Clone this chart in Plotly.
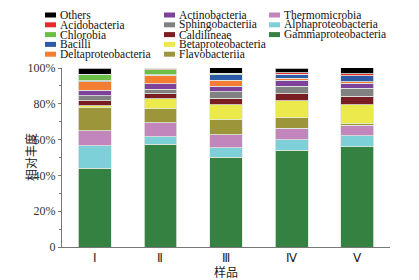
import plotly.graph_objects as go

samples = ["Ⅰ", "Ⅱ", "Ⅲ", "Ⅳ", "Ⅴ"]

# bottom -> top stacking order
taxa = ["Gammaproteobacteria", "Alphaproteobacteria", "Thermomicrobia",
        "Flavobacteriia", "Betaproteobacteria", "Caldilineae",
        "Sphingobacteriia", "Actinobacteria", "Deltaproteobacteria",
        "Bacilli", "Chlorobia", "Acidobacteria", "Others"]

gamma = [44.1, 57.4, 50.1, 54.0, 55.9]
alpha = [12.5, 4.3, 5.4, 6.0, 6.3]
thermo = [8.4, 7.8, 7.1, 6.3, 5.8]
flavo = [12.8, 7.6, 8.4, 5.8, 0.9]
beta = [1.1, 5.8, 8.6, 9.7, 10.6]
caldi = [2.8, 2.6, 3.5, 3.7, 4.8]
sphingo = [2.8, 2.6, 3.5, 4.3, 4.5]
actino = [3.2, 3.2, 3.2, 3.3, 2.8]
delta = [4.5, 4.7, 3.4, 1.1, 0.6]
bacilli = [0.7, 0.2, 3.0, 2.4, 3.4]
chlorobia = [3.2, 2.8, 0.7, 0.0, 0.0]
acido = [0.5, 0.8, 0.3, 0.8, 1.3]
others = [3.4, 0.2, 3.0, 2.6, 3.2]

series = [gamma, alpha, thermo, flavo, beta, caldi, sphingo, actino,
          delta, bacilli, chlorobia, acido, others]

colors = ["#358142", "#7dd0d8", "#c286bd", "#9d953a", "#ece94c", "#7a1d22",
          "#818181", "#7e429a", "#f47d31", "#2c5ca8", "#6bbf47", "#e8282c",
          "#000000"]

yticks = [0, 20, 40, 60, 80, 100]
yticklabels = ["0", "20%", "40%", "60%", "80%", "100%"]

# legend columns (top to bottom)
legend_cols = [
    ["Others", "Acidobacteria", "Chlorobia", "Bacilli", "Deltaproteobacteria"],
    ["Actinobacteria", "Sphingobacteriia", "Caldilineae", "Betaproteobacteria", "Flavobacteriia"],
    ["Thermomicrobia", "Alphaproteobacteria", "Gammaproteobacteria"],
]

SERIF = "Liberation Serif"
CJK = "Noto Sans CJK SC"

fig = go.Figure()
for name, vals, col in zip(taxa, series, colors):
    fig.add_trace(go.Bar(
        x=samples, y=vals, name=name, width=0.5,
        marker=dict(color=col, line=dict(color="rgba(225,232,225,1)", width=0.8)),
        showlegend=False,
    ))

W, H = 419, 280
ml, mr, mt, mb = 62, 29, 68, 33

fig.update_layout(
    width=W, height=H, barmode="stack",
    margin=dict(l=ml, r=mr, t=mt, b=mb, pad=0),
    paper_bgcolor="white", plot_bgcolor="white",
    font=dict(family=SERIF),
)
fig.update_xaxes(
    range=[-0.5, 4.5], showline=True, linecolor="#777", linewidth=1,
    ticks="", tickfont=dict(family=SERIF, size=12, color="#222"),
    showgrid=False, zeroline=False, automargin=False,
    title=dict(text="样品", font=dict(family=CJK, size=12, color="#222"), standoff=0),
)
fig.update_yaxes(
    range=[0, 100], tickvals=yticks, ticktext=yticklabels,
    showline=True, linecolor="#777", linewidth=1,
    ticks="outside", ticklen=3, tickcolor="#777",
    minor=dict(dtick=10, ticks="outside", ticklen=2, tickcolor="#777"),
    tickfont=dict(family=SERIF, size=12, color="#333"),
    showgrid=False, zeroline=False, automargin=False,
    ticklabelstandoff=0,
)

pw, ph = W - ml - mr, H - mt - mb
def px2paper(x, y):
    return (x - ml) / pw, (H - mb - y) / ph

# y-axis title placed like the reference
ytx, yty = px2paper(30, 157)
fig.add_annotation(xref="paper", yref="paper", x=ytx, y=yty, text="相对丰度",
                   textangle=-90, showarrow=False, xanchor="center", yanchor="middle",
                   font=dict(family=CJK, size=12, color="#222"))

# custom compact legend (paper coordinates)
color_of = dict(zip(taxa, colors))
col_x = [45, 164, 269]
row_y = [15, 24.8, 34.6, 44.4, 54.2]
sw_w, sw_h = 11, 5

for ci, names in enumerate(legend_cols):
    for ri, nm in enumerate(names):
        x0, y0 = px2paper(col_x[ci], row_y[ri] - sw_h / 2)
        x1, y1 = px2paper(col_x[ci] + sw_w, row_y[ri] + sw_h / 2)
        fig.add_shape(type="rect", xref="paper", yref="paper",
                      x0=x0, x1=x1, y0=y1, y1=y0,
                      fillcolor=color_of[nm], line=dict(width=0))
        tx, ty = px2paper(col_x[ci] + sw_w + 3, row_y[ri])
        fig.add_annotation(xref="paper", yref="paper", x=tx, y=ty,
                           text=nm, showarrow=False, xanchor="left", yanchor="middle",
                           borderpad=0,
                           font=dict(family=SERIF, size=11.5, color="#111"))

fig.write_html(
    "out.html",
    config={"displayModeBar": False},
    post_script="document.body.style.margin='0';document.body.style.overflow='hidden';",
)
